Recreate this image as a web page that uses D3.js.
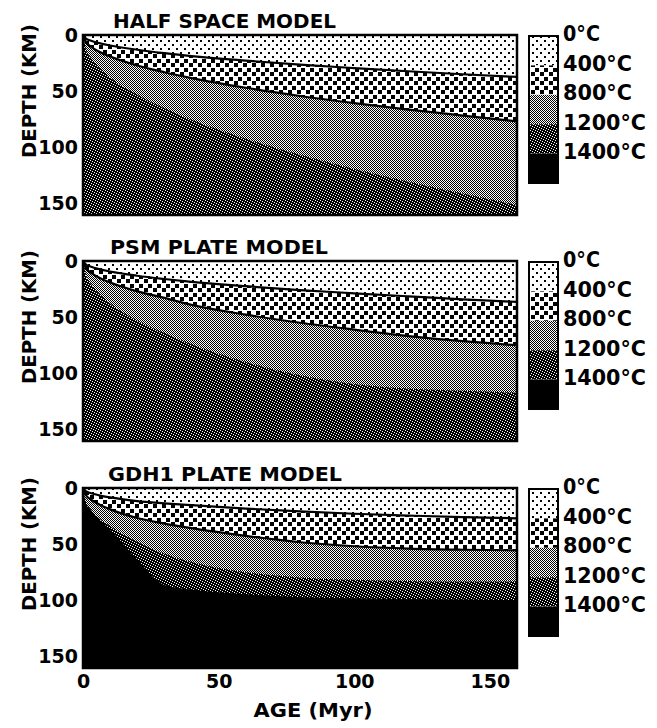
<!DOCTYPE html>
<html><head><meta charset="utf-8">
<script src="https://cdn.jsdelivr.net/npm/d3@7"></script>
<style>html,body{margin:0;padding:0;background:#fff;}svg{display:block;}</style>
</head><body>
<script>
// ---- data (depth in km of each isotherm vs age in Myr) ----
const ages = [0, 1, 3, 6, 10, 20, 30, 40, 60, 80, 100, 120, 140, 160];
const halfSpace400  = [0, 3.0, 5.1, 7.2, 9.3, 13.1, 16.1, 18.7, 22.8, 26.4, 29.4, 32.2, 34.9, 37.3];
const halfSpace800  = [0, 6.1, 10.5, 14.9, 19.2, 27.1, 33.1, 38.3, 46.9, 54.2, 60.5, 66.3, 71.6, 76.8];
const halfSpace1200 = [0, 11.9, 20.6, 29.1, 37.7, 53.2, 65.2, 75.3, 92.2, 106.5, 119.0, 130.4, 140.9, 151.0];
const psm400  = [0, 3.0, 5.1, 7.2, 9.3, 13.1, 16.0, 18.5, 22.4, 25.9, 28.7, 31.4, 34.1, 36.4];
const psm800  = [0, 6.1, 10.5, 14.9, 19.2, 27.0, 32.8, 39.0, 47.7, 54.9, 61.0, 66.7, 71.3, 74.9];
const psm1200 = [0, 11.9, 20.6, 29.1, 37.7, 52.8, 64.1, 73.9, 89.8, 101.6, 109.3, 113.4, 115.4, 117.0];
const gdh400  = [0, 2.7, 4.6, 6.5, 8.4, 11.6, 13.6, 15.3, 18.3, 20.8, 22.9, 24.5, 25.9, 27.0];
const gdh800  = [0, 6.0, 10.3, 14.7, 19.0, 26.7, 31.6, 35.7, 42.6, 48.2, 51.8, 53.9, 54.9, 55.4];
const gdh1200 = [0, 11.3, 19.5, 27.2, 33.9, 47.7, 58.5, 65.7, 74.9, 79.5, 81.6, 82.6, 83.1, 83.1];
const gdh1400 = [0, 13.0, 20.0, 28.0, 37.0, 63.6, 86.2, 90.3, 94.4, 97.0, 98.0, 98.7, 99.2, 99.5];
const modelTitles = ["HALF SPACE MODEL", "PSM PLATE MODEL", "GDH1 PLATE MODEL"];
const legendLabels = ["0°C", "400°C", "800°C", "1200°C", "1400°C"];
const depthTicks = [0, 50, 100, 150];
const ageTicks = [0, 50, 100, 150];

// ---- layout ----
const W = 657, H = 728;
const plotL = 83, plotR = 517, panelH = 180;
const panelTops = [35, 261, 488];
const titleX = [113, 110, 108], titleLen = [223, 218, 234];
const legendW = {"0°C": 37, "400°C": 69, "800°C": 69, "1200°C": 83, "1400°C": 83};
const FONT = "'DejaVu Sans', 'Liberation Sans', Arial, sans-serif";

const svg = d3.select("body").append("svg").attr("width", W).attr("height", H);
const defs = svg.append("defs");

// patterns: 0 small dots, 1 big squares, 2 fine checker gray, 3 dark dots, 4 black
function pat(id, size, bg, fg, rects) {
  const p = defs.append("pattern").attr("id", id).attr("patternUnits", "userSpaceOnUse")
    .attr("width", size).attr("height", size);
  p.append("rect").attr("width", size).attr("height", size).attr("fill", bg);
  rects.forEach(r => p.append("rect").attr("x", r[0]).attr("y", r[1]).attr("width", r[2]).attr("height", r[3]).attr("fill", fg));
}
pat("p0", 8, "#fff", "#000", [[0,0,2,2],[4,4,2,2]]);
pat("p1", 9, "#fff", "#000", [[0,0,4,4],[4,5,4,4]]);
pat("p2", 2, "#fff", "#000", [[0,0,1,1],[1,1,1,1]]);
pat("p3", 5, "#000", "#fff", [[0,0,1,1],[2,1,1,1],[4,2,1,1],[1,3,1,1],[3,4,1,1]]);
pat("p4", 2, "#000", "#000", []);
const fills = ["url(#p0)", "url(#p1)", "url(#p2)", "url(#p3)", "url(#p4)"];

const x = d3.scaleLinear().domain([0, 160]).range([plotL, plotR]);
const models = [
  [halfSpace400, halfSpace800, halfSpace1200],
  [psm400, psm800, psm1200],
  [gdh400, gdh800, gdh1200, gdh1400]
];

models.forEach((bounds, m) => {
  const top = panelTops[m];
  const y = d3.scaleLinear().domain([0, 160]).range([top, top + panelH]);
  const g = svg.append("g");
  defs.append("clipPath").attr("id", "clip" + m).append("rect")
    .attr("x", plotL).attr("y", top).attr("width", plotR - plotL).attr("height", panelH);
  const pg = g.append("g").attr("clip-path", `url(#clip${m})`);
  pg.append("rect").attr("x", plotL).attr("y", top).attr("width", plotR - plotL).attr("height", panelH)
    .attr("fill", fills[bounds.length]);
  for (let k = bounds.length - 1; k >= 0; k--) {
    const data = ages.map((a, i) => [a, bounds[k][i]]);
    const area = d3.area().x(d => x(d[0])).y0(y(0)).y1(d => y(d[1])).curve(d3.curveMonotoneX);
    pg.append("path").datum(data).attr("d", area).attr("fill", fills[k]);
  }
  [0, 1].forEach(k => {
    const data = ages.map((a, i) => [a, bounds[k][i]]);
    const line = d3.line().x(d => x(d[0])).y(d => y(d[1])).curve(d3.curveMonotoneX);
    pg.append("path").datum(data).attr("d", line).attr("fill", "none").attr("stroke", "#000").attr("stroke-width", 2.2);
  });
  g.append("rect").attr("x", plotL).attr("y", top).attr("width", plotR - plotL).attr("height", panelH)
    .attr("fill", "none").attr("stroke", "#000").attr("stroke-width", 2.5);

  // y axis
  const ya = g.append("g").attr("transform", `translate(${plotL},0)`)
    .call(d3.axisLeft(y).tickValues(depthTicks).tickSize(0).tickPadding(5).tickFormat(d3.format("d")));
  ya.select(".domain").remove();
  ya.selectAll("text").attr("font-family", FONT).attr("font-weight", "bold").attr("font-size", 19).attr("fill", "#000");

  g.append("text").attr("transform", `translate(36,${top + 56}) rotate(-90)`)
    .attr("text-anchor", "middle").attr("font-family", FONT).attr("font-weight", "bold").attr("font-size", 19.5)
    .attr("textLength", 134).attr("lengthAdjust", "spacingAndGlyphs").text("DEPTH (KM)");

  g.append("text").attr("x", titleX[m]).attr("y", top - 7)
    .attr("font-family", FONT).attr("font-weight", "bold").attr("font-size", 19)
    .attr("textLength", titleLen[m]).attr("lengthAdjust", "spacingAndGlyphs").text(modelTitles[m]);

  // legend
  const lx = 529, lw = 29, seg = 29.4, ltop = top + 1;
  legendLabels.forEach((lab, i) => {
    g.append("rect").attr("x", lx).attr("y", ltop + i * seg).attr("width", lw).attr("height", seg)
      .attr("fill", fills[i]);
    g.append("text").attr("x", 563).attr("y", ltop + i * seg - 2).attr("dy", "0.36em")
      .attr("font-family", FONT).attr("font-weight", "bold").attr("font-size", 20.5)
      .attr("textLength", legendW[lab]).attr("lengthAdjust", "spacingAndGlyphs").text(lab);
  });
  g.append("rect").attr("x", lx).attr("y", ltop).attr("width", lw).attr("height", seg * 5)
    .attr("fill", "none").attr("stroke", "#000").attr("stroke-width", 2);

  if (m === 2) {
    const xa = g.append("g").attr("transform", `translate(0,${top + panelH})`)
      .call(d3.axisBottom(x).tickValues(ageTicks).tickSize(0).tickPadding(7).tickFormat(d3.format("d")));
    xa.select(".domain").remove();
    xa.selectAll("text").attr("font-family", FONT).attr("font-weight", "bold").attr("font-size", 19).attr("fill", "#000");
    g.append("text").attr("x", 313).attr("y", 717).attr("text-anchor", "middle")
      .attr("font-family", FONT).attr("font-weight", "bold").attr("font-size", 20)
      .attr("textLength", 119).attr("lengthAdjust", "spacingAndGlyphs").text("AGE (Myr)");
  }
});
</script>
</body></html>
